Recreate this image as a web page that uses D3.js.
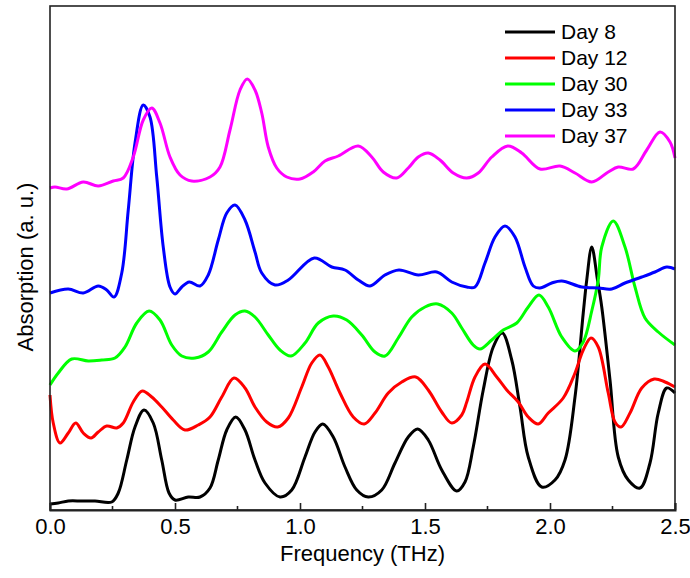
<!DOCTYPE html>
<html>
<head>
<meta charset="utf-8">
<script src="https://cdn.jsdelivr.net/npm/d3@7"></script>
<style>
  body { margin: 0; background: #fff; }
  text { font-family: "Liberation Sans", Arial, sans-serif; fill: #000; }
</style>
</head>
<body>
<div id="chart"></div>
<script>
// series names + colours (legend order)
var seriesNames = ["Day 8", "Day 12", "Day 30", "Day 33", "Day 37"];
var seriesColors = ["#000000", "#ff0000", "#00ff00", "#0000ff", "#ff00ff"];

// x tick values (THz)
var majorTicks = [0, 0.5, 1.0, 1.5, 2.0, 2.5];
var minorTicks = [0.25, 0.75, 1.25, 1.75, 2.25];

// [frequency THz, absorption a.u.]
var day8 = [[0, 6], [0.033, 7], [0.073, 9], [0.127, 9], [0.18, 9], [0.247, 8], [0.273, 17],
  [0.307, 50], [0.34, 83], [0.376, 100], [0.413, 87], [0.447, 50], [0.476, 17], [0.5, 10],
  [0.553, 13], [0.6, 13], [0.64, 22], [0.673, 50], [0.707, 80], [0.743, 93], [0.78, 80],
  [0.82, 50], [0.86, 27], [0.92, 13], [0.967, 20], [1.02, 53], [1.06, 78], [1.091, 86],
  [1.133, 73], [1.18, 43], [1.227, 20], [1.273, 13], [1.327, 20], [1.38, 47], [1.433, 73],
  [1.471, 81], [1.513, 70], [1.567, 40], [1.627, 19], [1.66, 28], [1.693, 63], [1.733, 120],
  [1.773, 163], [1.809, 177], [1.847, 150], [1.88, 103], [1.913, 53], [1.967, 23], [2.02, 30],
  [2.06, 50], [2.1, 113], [2.133, 197], [2.147, 230], [2.167, 263], [2.19, 230], [2.207, 203],
  [2.24, 130], [2.273, 53], [2.313, 30], [2.36, 22], [2.4, 47], [2.433, 97], [2.467, 122],
  [2.5, 117]];

var day12 = [[0, 115], [0.013, 87], [0.04, 67], [0.073, 77], [0.103, 87], [0.133, 77],
  [0.164, 72], [0.193, 78], [0.227, 84], [0.267, 82], [0.293, 87], [0.333, 108], [0.369, 119],
  [0.407, 113], [0.447, 103], [0.493, 90], [0.54, 80], [0.593, 85], [0.64, 93], [0.687, 113],
  [0.736, 132], [0.78, 122], [0.82, 103], [0.867, 88], [0.911, 83], [0.953, 92], [1.007, 123],
  [1.047, 147], [1.08, 155], [1.113, 143], [1.16, 117], [1.213, 93], [1.257, 86], [1.3, 97],
  [1.353, 117], [1.407, 128], [1.463, 133], [1.513, 120], [1.567, 98], [1.607, 87], [1.647, 95],
  [1.667, 108], [1.7, 133], [1.74, 146], [1.787, 133], [1.827, 120], [1.873, 108], [1.913, 93],
  [1.953, 86], [1.993, 97], [2.053, 112], [2.1, 137], [2.133, 160], [2.164, 172], [2.193, 163],
  [2.233, 117], [2.26, 88], [2.284, 83], [2.32, 97], [2.367, 122], [2.417, 131], [2.46, 128],
  [2.5, 123]];

var day30 = [[0, 125], [0.033, 137], [0.087, 151], [0.153, 149], [0.207, 150], [0.26, 152],
  [0.3, 163], [0.347, 187], [0.396, 199], [0.44, 190], [0.487, 165], [0.527, 154], [0.58, 152],
  [0.633, 158], [0.687, 178], [0.74, 195], [0.78, 199], [0.82, 193], [0.873, 175], [0.92, 160],
  [0.964, 154], [1.02, 167], [1.073, 187], [1.133, 194], [1.187, 190], [1.247, 175], [1.3, 158],
  [1.34, 154], [1.393, 172], [1.447, 193], [1.5, 203], [1.551, 206], [1.607, 197], [1.647, 182],
  [1.693, 165], [1.72, 161], [1.767, 170], [1.813, 180], [1.867, 187], [1.913, 203], [1.956, 215],
  [1.993, 203], [2.047, 173], [2.1, 159], [2.133, 168], [2.167, 199], [2.193, 230], [2.207, 263],
  [2.253, 289], [2.3, 263], [2.34, 223], [2.38, 192], [2.433, 178], [2.5, 165]];

var day33 = [[0, 217], [0.073, 221], [0.133, 217], [0.193, 224], [0.227, 220], [0.256, 213],
  [0.287, 237], [0.313, 300], [0.34, 367], [0.373, 405], [0.4, 393], [0.427, 333], [0.453, 263],
  [0.48, 223], [0.5, 216], [0.527, 223], [0.557, 228], [0.6, 224], [0.633, 235], [0.673, 270],
  [0.707, 297], [0.74, 305], [0.78, 290], [0.82, 258], [0.847, 237], [0.9, 225], [0.953, 230],
  [1.057, 252], [1.127, 243], [1.18, 240], [1.233, 230], [1.28, 224], [1.34, 235], [1.396, 240],
  [1.473, 235], [1.547, 238], [1.607, 228], [1.667, 223], [1.7, 223], [1.74, 247], [1.78, 273],
  [1.82, 284], [1.86, 273], [1.9, 243], [1.933, 224], [1.96, 222], [2.007, 227], [2.047, 229],
  [2.127, 223], [2.193, 222], [2.247, 221], [2.3, 227], [2.367, 233], [2.42, 238], [2.467, 243],
  [2.5, 241]];

var day37 = [[0, 322], [0.02, 323], [0.067, 321], [0.133, 328], [0.193, 324], [0.253, 329],
  [0.293, 332], [0.333, 353], [0.373, 390], [0.407, 402], [0.44, 387], [0.48, 353], [0.52, 335],
  [0.567, 329], [0.64, 333], [0.68, 343], [0.72, 380], [0.76, 420], [0.789, 431], [0.82, 420],
  [0.847, 397], [0.873, 363], [0.907, 342], [0.947, 333], [1.0, 331], [1.053, 338], [1.1, 349],
  [1.153, 354], [1.233, 364], [1.287, 353], [1.333, 338], [1.387, 332], [1.433, 342], [1.473, 353],
  [1.513, 357], [1.56, 350], [1.613, 337], [1.667, 332], [1.713, 337], [1.767, 353], [1.831, 364],
  [1.887, 357], [1.96, 341], [2.04, 344], [2.1, 337], [2.167, 328], [2.233, 338], [2.273, 343],
  [2.333, 341], [2.387, 360], [2.44, 378], [2.48, 368], [2.5, 352]];

var allSeries = [day8, day12, day30, day33, day37];

// canvas
var width = 690;
var height = 578;

// plot box edges (no "top" name: window.top is read-only)
var boxLeft = 50;
var boxRight = 675;
var boxTop = 6;
var boxBottom = 510;

var svg = d3
  .select("#chart")
  .append("svg")
  .attr("width", width)
  .attr("height", height);

// scales
var xScale = d3.scaleLinear().domain([0, 2.5]).range([boxLeft, boxRight]);
var yScale = d3.scaleLinear().domain([0, 504]).range([boxBottom, boxTop]);

// the curves, first series drawn first
var line = d3
  .line()
  .x(function(d) { return xScale(d[0]); })
  .y(function(d) { return yScale(d[1]); })
  .curve(d3.curveCatmullRom.alpha(0.5));

svg
  .append("g")
  .selectAll("path")
  .data(allSeries)
  .enter()
  .append("path")
  .attr("d", line)
  .attr("fill", "none")
  .attr("stroke", function(d, i) { return seriesColors[i]; })
  .attr("stroke-width", 3)
  .attr("stroke-linejoin", "round");

// frame
svg
  .append("rect")
  .attr("x", boxLeft)
  .attr("y", boxTop)
  .attr("width", boxRight - boxLeft)
  .attr("height", boxBottom - boxTop)
  .attr("fill", "none")
  .attr("stroke", "#222")
  .attr("stroke-width", 1.6);

// bottom axis, ticks pointing in
var xAxis = d3
  .axisBottom(xScale)
  .tickValues(majorTicks)
  .tickSize(-7)
  .tickPadding(8)
  .tickFormat(d3.format(".1f"));

var xAxisG = svg
  .append("g")
  .attr("transform", "translate(0," + boxBottom + ")")
  .call(xAxis);
xAxisG.select(".domain").attr("stroke", "#222").attr("stroke-width", 2);
xAxisG.selectAll(".tick line").attr("stroke", "#222").attr("stroke-width", 1.6);
xAxisG.selectAll(".tick text")
  .attr("font-size", 22)
  .attr("font-family", "Liberation Sans, Arial, sans-serif")
  .attr("fill", "#000");

// minor ticks
svg
  .append("g")
  .selectAll("line")
  .data(minorTicks)
  .enter()
  .append("line")
  .attr("x1", function(d) { return xScale(d); })
  .attr("x2", function(d) { return xScale(d); })
  .attr("y1", boxBottom)
  .attr("y2", boxBottom - 4)
  .attr("stroke", "#222")
  .attr("stroke-width", 1.6);

// axis titles
svg
  .append("text")
  .attr("x", (boxLeft + boxRight) / 2)
  .attr("y", 561)
  .attr("text-anchor", "middle")
  .attr("font-size", 22)
  .text("Frequency (THz)");

svg
  .append("text")
  .attr("transform", "translate(33,267)rotate(-90)")
  .attr("text-anchor", "middle")
  .attr("font-size", 22)
  .text("Absorption (a. u.)");

// legend
var legend = svg
  .append("g")
  .selectAll("g")
  .data(seriesNames)
  .enter()
  .append("g")
  .attr("transform", function(d, i) { return "translate(505," + (32 + i * 26) + ")"; });

legend
  .append("line")
  .attr("x1", 0)
  .attr("x2", 50)
  .attr("stroke", function(d, i) { return seriesColors[i]; })
  .attr("stroke-width", 3);

legend
  .append("text")
  .attr("x", 56)
  .attr("y", 7)
  .attr("font-size", 21)
  .text(function(d) { return d; });
</script>
</body>
</html>
